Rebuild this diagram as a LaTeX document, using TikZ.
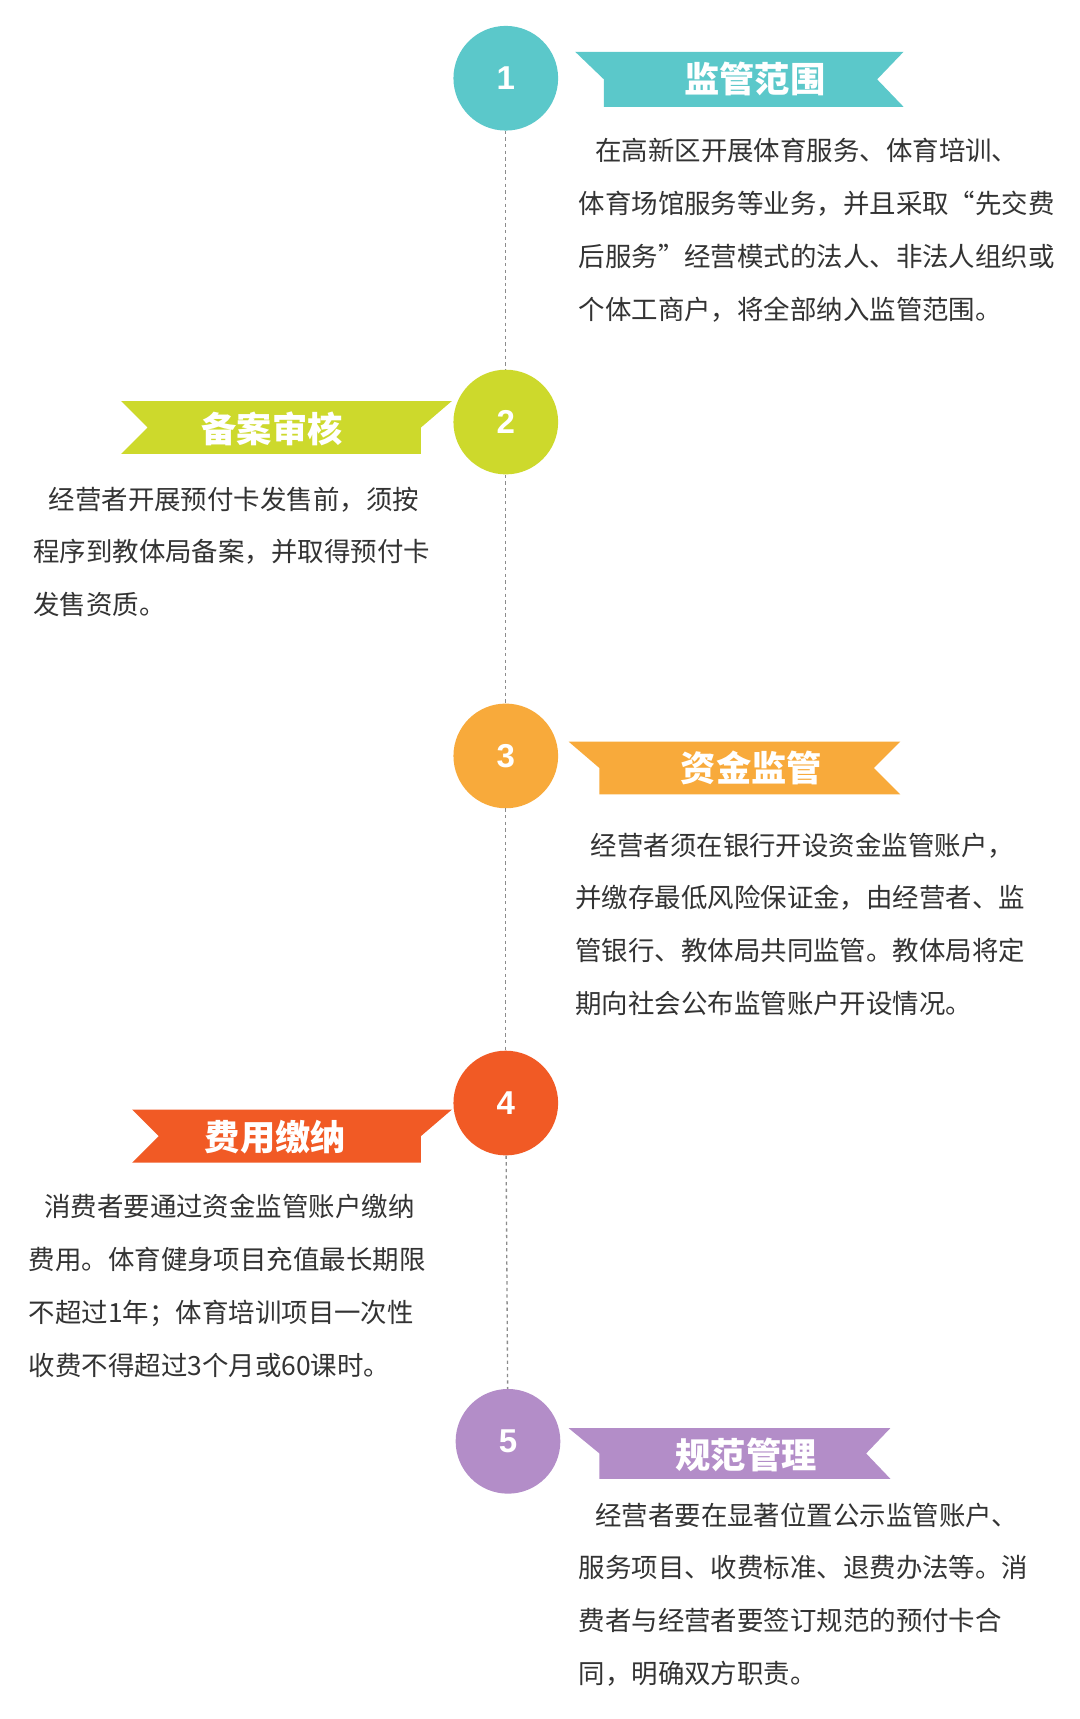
\documentclass[tikz,border=0pt]{standalone}
\usepackage{fontspec}
\setmainfont{Noto Sans CJK SC}
\newfontfamily\numfont{Liberation Sans}
\begin{document}
\begin{tikzpicture}[x=1pt,y=-1pt,
  circ/.style={circle,minimum size=95pt,inner sep=0pt,text=white,font=\numfont\bfseries\fontsize{30}{30}\selectfont},
  ttl/.style={text=white,font=\bfseries\fontsize{32}{32}\selectfont},
  body/.style={anchor=base west,inner sep=0pt,text=black!80,font=\fontsize{24}{24}\selectfont},
  dl/.style={draw=black!45,dashed,line width=1.2pt}]
\definecolor{cA}{HTML}{5BC8CA}
\definecolor{cB}{HTML}{CDD92C}
\definecolor{cC}{HTML}{F8AA3B}
\definecolor{cD}{HTML}{F15A25}
\definecolor{cE}{HTML}{B38DC8}
\useasboundingbox[fill=white] (0,0) rectangle (980,1560);
% circles
\node[circ,fill=cA] (c1) at (459,71) {1};
\node[circ,fill=cB] (c2) at (459,383) {2};
\node[circ,fill=cC] (c3) at (459,686) {3};
\node[circ,fill=cD] (c4) at (459,1001) {4};
\node[circ,fill=cE] (c5) at (461,1308) {5};
\draw[dl] (c1) -- (c2);
\draw[dl] (c2) -- (c3);
\draw[dl] (c3) -- (c4);
\draw[dl] (c4) -- (c5);
% banners right
\fill[cA] (522,47) -- (820,47) -- (796,72) -- (820,97) -- (548,97) -- (548,72) -- cycle;
\node[ttl] (t1) at (685,72) {监管范围};
\fill[cC] (516,673) -- (817,673) -- (793,697) -- (817,721) -- (544,721) -- (544,697) -- cycle;
\node[ttl] (t3) at (682,697) {资金监管};
\fill[cE] (516,1296) -- (808,1296) -- (786,1319) -- (808,1342) -- (544,1342) -- (544,1319) -- cycle;
\node[ttl] (t5) at (677,1320) {规范管理};
% banners left
\fill[cB] (410,364) -- (110,364) -- (134,388) -- (110,412) -- (382,412) -- (382,388) -- cycle;
\node[ttl] (t2) at (247,389) {备案审核};
\fill[cD] (410,1007) -- (120,1007) -- (144,1031) -- (120,1055) -- (382,1055) -- (382,1031) -- cycle;
\node[ttl] (t4) at (250,1032) {费用缴纳};
% body texts
\node[body] (a1) at (540,146) {在高新区开展体育服务、体育培训、};
\node[body] (a2) at (525,194) {体育场馆服务等业务，并且采取“先交费};
\node[body] (a3) at (525,242) {后服务”经营模式的法人、非法人组织或};
\node[body] (a4) at (525,290) {个体工商户，将全部纳入监管范围。};
\node[body] (b1) at (44,462) {经营者开展预付卡发售前，须按};
\node[body] (b2) at (30,510) {程序到教体局备案，并取得预付卡};
\node[body] (b3) at (30,558) {发售资质。};
\node[body] (d1) at (536,776) {经营者须在银行开设资金监管账户，};
\node[body] (d2) at (522,824) {并缴存最低风险保证金，由经营者、监};
\node[body] (d3) at (522,872) {管银行、教体局共同监管。教体局将定};
\node[body] (d4) at (522,920) {期向社会公布监管账户开设情况。};
\node[body] (e1) at (40,1104) {消费者要通过资金监管账户缴纳};
\node[body] (e2) at (26,1152) {费用。体育健身项目充值最长期限};
\node[body] (e3) at (26,1200) {不超过1年；体育培训项目一次性};
\node[body] (e4) at (26,1248) {收费不得超过3个月或60课时。};
\node[body] (f1) at (540,1384) {经营者要在显著位置公示监管账户、};
\node[body] (f2) at (525,1432) {服务项目、收费标准、退费办法等。消};
\node[body] (f3) at (525,1480) {费者与经营者要签订规范的预付卡合};
\node[body] (f4) at (525,1528) {同，明确双方职责。};
\end{tikzpicture}
\end{document}
